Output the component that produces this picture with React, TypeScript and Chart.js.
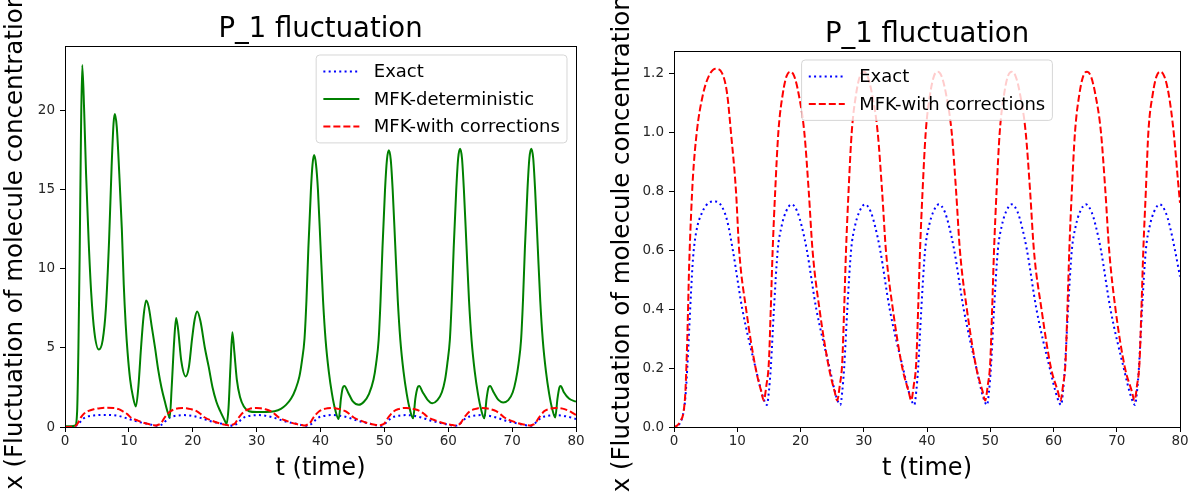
import React, { useEffect, useRef } from 'react';
import { Chart, registerables } from 'chart.js';
Chart.register(...registerables);

const FONT = "'DejaVu Sans', sans-serif";

// ---- Data ----
const tExact = [
  0, 0.5, 1.0, 1.5, 1.8, 2.1, 2.4, 2.7, 3.0, 3.5, 4.5, 5.5, 6.5, 7.5, 8.4, 9.3, 10.8, 12.9, 14.1, 14.7,
  15.0, 15.3, 15.8, 16.4, 17.0, 17.7, 18.6, 19.5, 20.2, 21.0, 22.5, 24.6, 25.7, 26.3,
  26.6, 26.9, 27.4, 28.0, 28.6, 29.3, 30.2, 31.1, 31.8, 32.6, 34.1, 36.2, 37.4, 38.0,
  38.3, 38.6, 39.1, 39.7, 40.3, 41.0, 41.9, 42.8, 43.5, 44.3, 45.8, 47.8, 48.9, 49.5,
  49.8, 50.1, 50.6, 51.2, 51.8, 52.5, 53.4, 54.3, 55.0, 55.8, 57.3, 59.4, 60.6, 61.2,
  61.5, 61.8, 62.3, 62.9, 63.5, 64.2, 65.1, 66.0, 66.7, 67.5, 69.0, 71.1, 72.3, 72.9,
  73.2, 73.5, 74.0, 74.6, 75.2, 75.9, 76.8, 77.7, 78.4, 79.2, 80.0,
];
const exact = [
  0, 0.004, 0.015, 0.05, 0.1, 0.2, 0.33, 0.46, 0.57, 0.66, 0.73, 0.76, 0.765, 0.75, 0.7, 0.6, 0.4, 0.2, 0.1, 0.075,
  0.12, 0.2, 0.4, 0.6, 0.68, 0.73, 0.755, 0.73, 0.68, 0.6, 0.4, 0.2, 0.1, 0.075,
  0.12, 0.2, 0.4, 0.6, 0.68, 0.73, 0.755, 0.73, 0.68, 0.6, 0.4, 0.2, 0.1, 0.075,
  0.12, 0.2, 0.4, 0.6, 0.68, 0.73, 0.755, 0.73, 0.68, 0.6, 0.4, 0.2, 0.1, 0.075,
  0.12, 0.2, 0.4, 0.6, 0.68, 0.73, 0.755, 0.73, 0.68, 0.6, 0.4, 0.2, 0.1, 0.075,
  0.12, 0.2, 0.4, 0.6, 0.68, 0.73, 0.755, 0.73, 0.68, 0.6, 0.4, 0.2, 0.1, 0.075,
  0.12, 0.2, 0.4, 0.6, 0.68, 0.73, 0.755, 0.73, 0.68, 0.6, 0.51,
];

const tCorr = [
  0, 0.5, 1.0, 1.5, 1.8, 2.1, 2.4, 2.7, 3.0, 3.6, 4.5, 5.5, 6.6, 7.6, 8.4, 9.0, 9.8, 10.3, 11.4, 12.9, 13.8, 14.2,
  14.6, 15.0, 15.3, 15.6, 16.0, 16.5, 17.2, 17.8, 18.4, 19.0, 19.7, 20.6, 21.3, 21.9, 23.0, 24.5, 25.4, 25.8,
  26.2, 26.6, 26.9, 27.2, 27.6, 28.1, 28.8, 29.4, 30.0, 30.6, 31.3, 32.2, 32.9, 33.5, 34.6, 36.1, 37.1, 37.5,
  37.9, 38.3, 38.6, 38.9, 39.3, 39.8, 40.5, 41.1, 41.7, 42.3, 43.0, 43.9, 44.6, 45.2, 46.3, 47.8, 48.8, 49.2,
  49.6, 50.0, 50.3, 50.6, 51.0, 51.5, 52.2, 52.8, 53.4, 54.0, 54.7, 55.6, 56.3, 56.9, 58.1, 59.6, 60.7, 61.1,
  61.5, 61.9, 62.2, 62.5, 62.9, 63.4, 64.1, 64.7, 65.3, 65.9, 66.6, 67.5, 68.2, 68.8, 69.8, 71.3, 72.4, 72.8,
  73.2, 73.6, 73.9, 74.2, 74.6, 75.0, 75.7, 76.3, 76.9, 77.5, 78.2, 79.0, 79.7, 80.0,
];
const corr = [
  0, 0.005, 0.02, 0.05, 0.12, 0.3, 0.55, 0.72, 0.85, 1.0, 1.12, 1.19, 1.215, 1.2, 1.13, 1.0, 0.8, 0.6, 0.4, 0.2, 0.12, 0.09,
  0.14, 0.22, 0.4, 0.6, 0.8, 1.0, 1.13, 1.19, 1.205, 1.19, 1.13, 1.0, 0.8, 0.6, 0.4, 0.2, 0.12, 0.09,
  0.14, 0.22, 0.4, 0.6, 0.8, 1.0, 1.13, 1.19, 1.205, 1.19, 1.13, 1.0, 0.8, 0.6, 0.4, 0.2, 0.12, 0.09,
  0.14, 0.22, 0.4, 0.6, 0.8, 1.0, 1.13, 1.19, 1.205, 1.19, 1.13, 1.0, 0.8, 0.6, 0.4, 0.2, 0.12, 0.09,
  0.14, 0.22, 0.4, 0.6, 0.8, 1.0, 1.13, 1.19, 1.205, 1.19, 1.13, 1.0, 0.8, 0.6, 0.4, 0.2, 0.12, 0.09,
  0.14, 0.22, 0.4, 0.6, 0.8, 1.0, 1.13, 1.19, 1.205, 1.19, 1.13, 1.0, 0.8, 0.6, 0.4, 0.2, 0.12, 0.09,
  0.14, 0.22, 0.4, 0.6, 0.8, 1.0, 1.13, 1.19, 1.205, 1.19, 1.13, 1.0, 0.83, 0.76,
];

const tDet = [
  0, 1.0, 1.6, 1.9, 2.1, 2.3, 2.5, 2.7, 3.0, 3.3, 3.7, 4.1, 4.6, 5.3, 5.9, 6.4, 6.9, 7.3, 7.6, 7.8,
  8.1, 8.5, 8.9, 9.2, 9.5, 9.8, 10.2, 10.6, 11.1, 11.5, 11.9, 12.3, 12.7, 13.1, 13.6, 14.1, 14.6, 15.1,
  15.7, 16.1, 16.4, 16.7, 17.1, 17.4, 17.7, 18.2, 18.9, 19.4, 19.9, 20.3, 20.7, 21.2, 21.9, 22.5, 23.1,
  23.7, 24.3, 24.9, 25.3, 25.6, 25.9, 26.2, 26.5, 26.9, 27.4, 28.0, 28.8, 30.0, 31.5, 32.8, 33.8, 34.6,
  35.4, 36.1, 36.7, 37.1, 37.5, 37.8, 38.1, 38.5, 38.75, 39.0, 39.3, 39.6, 40.0, 40.4, 40.8, 41.3, 41.8,
  42.3, 42.85, 43.2, 43.5, 43.75, 44.3, 45.1, 46.0, 46.8, 47.6, 48.3, 48.7, 49.1, 49.4, 49.7, 50.1, 50.4,
  50.7, 51.0, 51.3, 51.7, 52.1, 52.5, 53.0, 53.5, 54.0, 54.5, 54.85, 55.2, 55.45, 56.0, 56.8, 57.5, 58.3,
  59.0, 59.5, 59.85, 60.25, 60.55, 60.85, 61.25, 61.55, 61.85, 62.15, 62.45, 62.85, 63.25, 63.65, 64.15,
  64.65, 65.15, 65.65, 66.0, 66.3, 66.55, 67.1, 67.9, 68.6, 69.4, 70.1, 70.6, 71.0, 71.4, 71.7, 72.0,
  72.4, 72.7, 73.0, 73.3, 73.6, 74.0, 74.4, 74.8, 75.3, 75.8, 76.3, 76.75, 77.1, 77.4, 77.6, 78.1, 78.9, 80.0,
];
const det = [
  0.05, 0.05, 0.1, 1.0, 5, 11, 18.5, 22.9, 20, 16, 11.8, 8.5, 6.0, 4.9, 5.5, 7.5, 11.8, 16.5, 19.2, 19.8,
  19.0, 16.0, 12.5, 9.0, 6.5, 4.7, 3.0, 2.0, 1.3, 2.6, 5.0, 7.0, 8.0, 7.6, 6.3, 5.0, 3.6, 2.5,
  1.5, 0.9, 0.6, 2.5, 5.5, 6.9, 6.2, 4.2, 3.2, 3.8, 5.6, 6.8, 7.3, 6.7, 5.0, 3.8, 2.5,
  1.6, 1.0, 0.5, 0.2, 1.2, 3.8, 6.0, 4.8, 3.0, 1.9, 1.3, 1.0, 0.95, 0.95, 1.0, 1.15, 1.4,
  1.8, 2.4, 3.2, 4.2, 5.6, 8.0, 11.3, 15.0, 16.6, 17.2, 16.6, 15.0, 11.5, 8.0, 5.5, 3.5, 2.1,
  1.1, 0.5, 1.8, 2.5, 2.6, 2.2, 1.6, 1.4, 1.6, 2.1, 3.0, 4.0, 5.5, 8.0, 11.3, 15.0, 16.9,
  17.5, 16.9, 15.0, 11.5, 8.0, 5.5, 3.5, 2.1, 1.1, 0.55, 1.8, 2.5, 2.6, 2.2, 1.7, 1.5, 1.7,
  2.2, 3.0, 4.0, 5.5, 8.0, 11.3, 15.0, 17.0, 17.6, 17.0, 15.0, 11.5, 8.0, 5.5, 3.5,
  2.1, 1.1, 0.55, 1.8, 2.5, 2.6, 2.2, 1.7, 1.55, 1.7, 2.2, 3.0, 4.0, 5.5, 8.0, 11.3,
  15.0, 17.0, 17.6, 17.0, 15.0, 11.5, 8.0, 5.5, 3.5, 2.1, 1.1, 0.6, 1.8, 2.5, 2.6, 2.2, 1.8, 1.6,
];

const xTicks = [0, 10, 20, 30, 40, 50, 60, 70, 80];
const yTicksLeft = [0, 5, 10, 15, 20];
const yTicksRight = [0, 0.2, 0.4, 0.6, 0.8, 1.0, 1.2];

const TITLE = 'P_1 fluctuation';
const XLABEL = 't (time)';
const YLABEL = 'x (Fluctuation of molecule concentration)';

function pts(t: number[], v: number[]) {
  return t.map((x, i) => ({ x, y: v[i] }));
}

const exactDs = () => ({
  label: 'Exact', data: pts(tExact, exact), borderColor: '#0000ff', borderWidth: 2,
  borderDash: [2, 3.3], pointRadius: 0, cubicInterpolationMode: 'monotone' as const, order: 3,
});
const detDs = () => ({
  label: 'MFK-deterministic', data: pts(tDet, det), borderColor: '#008000', borderWidth: 2,
  pointRadius: 0, cubicInterpolationMode: 'monotone' as const, order: 2,
});
const corrDs = () => ({
  label: 'MFK-with corrections', data: pts(tCorr, corr), borderColor: '#ff0000', borderWidth: 2,
  borderDash: [7, 3], pointRadius: 0, cubicInterpolationMode: 'monotone' as const, order: 1,
});

const framePlugin = {
  id: 'frame',
  afterDatasetsDraw(chart: any) {
    const { ctx, chartArea: a } = chart;
    ctx.save();
    ctx.strokeStyle = '#000';
    ctx.lineWidth = 1;
    ctx.setLineDash([]);
    ctx.strokeRect(Math.round(a.left) + 0.5, Math.round(a.top) + 0.5,
      Math.round(a.right - a.left), Math.round(a.bottom - a.top));
    ctx.restore();
  },
};

const boxLegend = {
  id: 'boxLegend',
  afterDraw(chart: any, _args: any, opts: any) {
    const { ctx, chartArea: a } = chart;
    const fs = 18;
    const items = chart.data.datasets;
    ctx.save();
    ctx.font = `${fs}px ${FONT}`;
    const textW = Math.max(...items.map((d: any) => ctx.measureText(d.label).width));
    const pad = 0.4 * fs, hl = 2 * fs, htp = 0.8 * fs, ls = 0.5 * fs, bap = 0.5 * fs;
    const rowH = 18.5;
    const w = 2 * pad + hl + htp + textW;
    const h = 2 * pad + items.length * rowH + (items.length - 1) * ls;
    const x = opts.align === 'center' ? (a.left + a.right) / 2 - w / 2 : a.right - bap - w;
    const y = a.top + bap;
    ctx.beginPath();
    ctx.roundRect(x, y, w, h, 3.6);
    ctx.fillStyle = 'rgba(255,255,255,0.8)';
    ctx.fill();
    ctx.strokeStyle = 'rgba(204,204,204,0.8)';
    ctx.lineWidth = 1;
    ctx.stroke();
    items.forEach((d: any, i: number) => {
      const cy = y + pad + i * (rowH + ls) + rowH / 2;
      ctx.beginPath();
      ctx.setLineDash(d.borderDash || []);
      ctx.strokeStyle = d.borderColor;
      ctx.lineWidth = d.borderWidth;
      ctx.moveTo(x + pad, cy);
      ctx.lineTo(x + pad + hl, cy);
      ctx.stroke();
      ctx.setLineDash([]);
      ctx.fillStyle = '#000';
      ctx.textBaseline = 'middle';
      ctx.textAlign = 'left';
      ctx.fillText(d.label, x + pad + hl + htp, cy + 1);
    });
    ctx.restore();
  },
};

function makeConfig(p: {
  datasets: any[]; yMax: number; yTicks: number[]; fmt: (v: number) => string;
  padRight: number; yAxisWidth: number; titleTop: number; yTitlePad: number; legendAlign: string;
}) {
  const tickFont = { family: FONT, size: 13.5 };
  return {
    type: 'line' as const,
    data: { datasets: p.datasets },
    plugins: [framePlugin, boxLegend],
    options: {
      animation: false as const,
      responsive: false,
      layout: { padding: { left: 0, right: p.padRight, top: 0, bottom: 0 }, autoPadding: false },
      plugins: {
        legend: { display: false },
        tooltip: { enabled: false },
        title: {
          display: true, text: TITLE, fullSize: false, color: '#000',
          font: { family: FONT, size: 27.5, weight: 'normal' as const, lineHeight: 1.2 },
          padding: { top: p.titleTop, bottom: 0 },
        },
        boxLegend: { align: p.legendAlign },
      },
      scales: {
        x: {
          type: 'linear' as const, min: 0, max: 80,
          afterBuildTicks: (s: any) => { s.ticks = xTicks.map((v) => ({ value: v })); },
          afterFit: (s: any) => { s.height = 66; },
          grid: { drawOnChartArea: false, drawTicks: true, tickLength: 5, color: '#000', lineWidth: 1 },
          border: { display: false },
          ticks: { font: tickFont, color: '#262626', padding: 1, maxRotation: 0, callback: (v: any) => String(v) },
          title: { display: true, text: XLABEL, color: '#000', font: { family: FONT, size: 24, lineHeight: 1.2 }, padding: { top: 0, bottom: 10 } },
        },
        y: {
          type: 'linear' as const, min: 0, max: p.yMax,
          afterBuildTicks: (s: any) => { s.ticks = p.yTicks.map((v) => ({ value: v })); },
          afterFit: (s: any) => { s.width = p.yAxisWidth; },
          grid: { drawOnChartArea: false, drawTicks: true, tickLength: 5, color: '#000', lineWidth: 1 },
          border: { display: false },
          ticks: { font: tickFont, color: '#262626', padding: 5, callback: (v: any) => p.fmt(Number(v)) },
          title: { display: true, text: YLABEL, color: '#000', font: { family: FONT, size: 24.5, lineHeight: 1.2 }, padding: { top: p.yTitlePad, bottom: 0 } },
        },
      },
    },
  };
}

function ChartCanvas({ config, width, height, left }: { config: () => any; width: number; height: number; left: number }) {
  const ref = useRef<HTMLCanvasElement | null>(null);
  useEffect(() => {
    if (!ref.current) return;
    const chart = new Chart(ref.current, config());
    return () => chart.destroy();
  }, []);
  return (
    <canvas ref={ref} width={width} height={height}
      style={{ position: 'absolute', left, top: 0, width, height }} />
  );
}

export default function App() {
  return (
    <div style={{ position: 'absolute', left: 0, top: 0, width: 1195, height: 493, background: '#fff', overflow: 'hidden' }}>
      <ChartCanvas left={0} width={597} height={493} config={() => makeConfig({
        datasets: [exactDs(), detDs(), corrDs()], yMax: 24.1, yTicks: yTicksLeft, fmt: (v) => String(v),
        padRight: 21, yAxisWidth: 65, titleTop: 13, yTitlePad: 0.5, legendAlign: 'right',
      })} />
      <ChartCanvas left={597} width={598} height={493} config={() => makeConfig({
        datasets: [exactDs(), corrDs()], yMax: 1.275, yTicks: yTicksRight, fmt: (v) => v.toFixed(1),
        padRight: 15, yAxisWidth: 77, titleTop: 18, yTitlePad: 10.5, legendAlign: 'center',
      })} />
    </div>
  );
}
